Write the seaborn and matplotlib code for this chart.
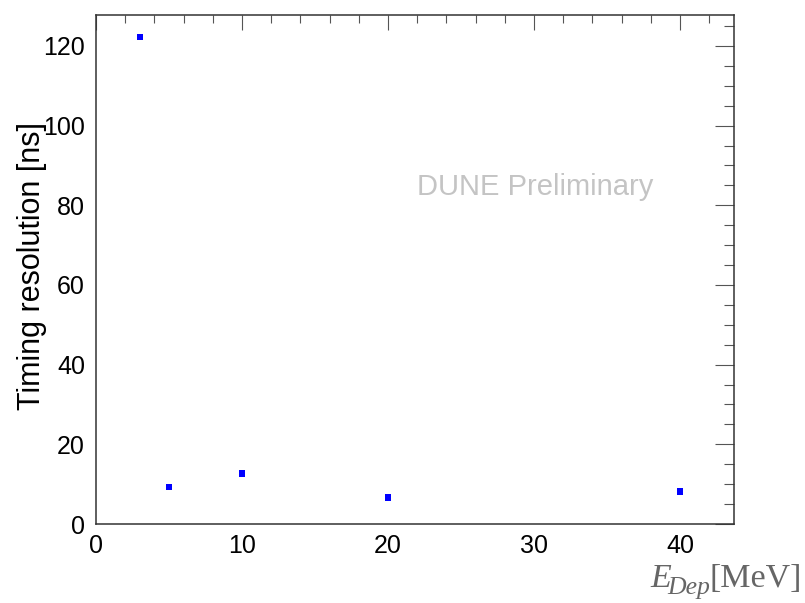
import matplotlib
matplotlib.use("Agg")
import matplotlib.pyplot as plt
import seaborn as sns
import pandas as pd
from matplotlib.ticker import MultipleLocator

# Data
energy_mev = [3, 5, 10, 20, 40]
timing_res_ns = [122.3, 9.3, 12.7, 6.7, 8.1]

sns.set_style("white")
plt.rcParams['font.family'] = ['Liberation Sans', 'DejaVu Sans']

df = pd.DataFrame({"E": energy_mev, "T": timing_res_ns})

W, H = 805, 603
fig = plt.figure(figsize=(W / 100, H / 100), dpi=100)
ax = fig.add_axes([96/W, 1 - 524/H, (734-96)/W, (524-14.5)/H])

sns.scatterplot(data=df, x="E", y="T", marker="s", s=22, color="#0000ff",
                edgecolor="none", linewidth=0, ax=ax, legend=False)

ax.set_xlim(0, 43.7)
ax.set_ylim(0, 127.9)
ax.xaxis.set_major_locator(MultipleLocator(10))
ax.xaxis.set_minor_locator(MultipleLocator(2))
ax.yaxis.set_major_locator(MultipleLocator(20))
ax.yaxis.set_minor_locator(MultipleLocator(5))

ax.tick_params(axis='both', which='both', direction='in', top=True, right=True,
               color='#555555', width=0.8, labelsize=18, labelcolor='black')
ax.tick_params(axis='x', which='major', length=10.8, pad=7)
ax.tick_params(axis='x', which='minor', length=5.8)
ax.tick_params(axis='y', which='major', length=13.7, pad=8)
ax.tick_params(axis='y', which='minor', length=7)

for sp in ax.spines.values():
    sp.set_visible(True)
    sp.set_color('#333333')
    sp.set_linewidth(1.1)

ax.set_xlabel("")
ax.set_ylabel("Timing resolution [ns]", fontsize=22, color='black')
ax.yaxis.set_label_coords(-0.077, 0.507)

ax.text(535/W, 1 - 187/H, "DUNE Preliminary", transform=fig.transFigure,
        ha='center', va='center', fontsize=21, color='#c4c4c4')

# x-axis title built from pieces: E (italic), Dep (italic subscript), [MeV]
serif = ['Liberation Serif', 'DejaVu Serif']
grey = '#666666'
fig.canvas.draw()
r = fig.canvas.get_renderer()
t3 = fig.text(802/W, 1 - 587/H, "[MeV]", ha='right', va='baseline',
              fontsize=24.5, color=grey, family=serif)
bb3 = t3.get_window_extent(r)
t2 = fig.text((bb3.x0 + 1) / W, 1 - 594/H, "Dep", ha='right', va='baseline',
              fontsize=18.5, style='italic', color=grey, family=serif)
bb2 = t2.get_window_extent(r)
t1 = fig.text((bb2.x0 + 3) / W, 1 - 587/H, "E", ha='right', va='baseline',
              fontsize=24.5, style='italic', color=grey, family=serif)

fig.savefig("out.png", dpi=100)
